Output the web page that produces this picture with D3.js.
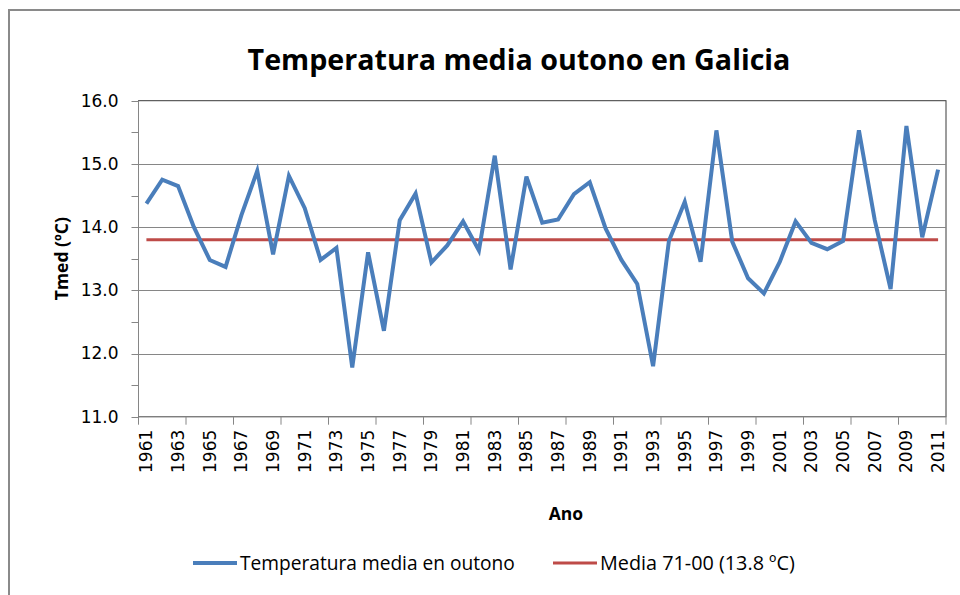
<!doctype html>
<html>
<head>
<meta charset="utf-8">
<title>Temperatura media outono en Galicia</title>
<script src="https://d3js.org/d3.v7.min.js"></script>
<style>
  body { margin: 0; background: #fff; }
  svg { display: block; }
  .tick-label { font-family: 'DejaVu Sans', sans-serif; font-size: 17px; fill: #000; }
  .axis-title { font-family: 'Open Sans', sans-serif; font-weight: bold; font-size: 17.5px; fill: #000; }
  .legend { font-family: 'Open Sans', sans-serif; font-size: 17px; fill: #000; }
</style>
</head>
<body>
<svg id="chart" width="960" height="595"></svg>
<script>
// years shown on the category axis
const years = d3.range(1961, 2012);
// autumn mean temperature (ºC)
const tmed = [
  14.37, 14.75, 14.65, 14.00, 13.48, 13.37, 14.19, 14.89, 13.57, 14.81,
  14.30, 13.48, 13.67, 11.78, 13.60, 12.36, 14.11, 14.53, 13.44, 13.71,
  14.09, 13.63, 15.13, 13.33, 14.80, 14.07, 14.12, 14.52, 14.71, 13.98,
  13.48, 13.10, 11.80, 13.78, 14.40, 13.45, 15.53, 13.77, 13.19, 12.95,
  13.45, 14.09, 13.75, 13.65, 13.78, 15.53, 14.11, 13.02, 15.60, 13.84,
  14.91
];
// 1971-2000 reference mean
const mean7100 = 13.8;
const yTicks = [11, 12, 13, 14, 15, 16];
const yMinor = [11.5, 12.5, 13.5, 14.5, 15.5];
const seriesNames = ["Temperatura media en outono", "Media 71-00 (13.8 ºC)"];

const blue = "#4a7ebb", red = "#be4b48", grey = "#868686";
const svg = d3.select("#chart");

// outer chart frame
svg.append("rect").attr("x", 9).attr("y", 10).attr("width", 980).attr("height", 620)
  .attr("fill", "none").attr("stroke", "#8a8a8a").attr("stroke-width", 2);

const pLeft = 138.5, pRight = 946, pTop = 100.7, pBottom = 416.7;

const x = d3.scaleBand().domain(years).range([pLeft, pRight]).padding(0);
const cx = d => x(d) + x.bandwidth() / 2;
const y = d3.scaleLinear().domain([11, 16]).range([pBottom, pTop]);

// plot area border
svg.append("rect").attr("x", pLeft).attr("y", pTop).attr("width", pRight - pLeft).attr("height", pBottom - pTop)
  .attr("fill", "none").attr("stroke", "#3a3a3a").attr("stroke-width", 1);

// gridlines
svg.append("g").selectAll("line").data(yTicks.slice(1, -1)).join("line")
  .attr("x1", pLeft).attr("x2", pRight)
  .attr("y1", d => Math.round(y(d)) + 0.5).attr("y2", d => Math.round(y(d)) + 0.5)
  .attr("stroke", grey).attr("stroke-width", 1);

// y axis
const yAxis = svg.append("g");
yAxis.append("line").attr("x1", pLeft).attr("x2", pLeft).attr("y1", pTop).attr("y2", pBottom)
  .attr("stroke", grey);
yAxis.selectAll("line.major").data(yTicks.concat(yMinor)).join("line").attr("class", "major")
  .attr("x1", pLeft - 7).attr("x2", pLeft)
  .attr("y1", d => Math.round(y(d)) + 0.5).attr("y2", d => Math.round(y(d)) + 0.5)
  .attr("stroke", grey);
yAxis.selectAll("text").data(yTicks).join("text").attr("class", "tick-label")
  .attr("x", pLeft - 20).attr("y", d => y(d)).attr("dy", "0.35em")
  .attr("text-anchor", "end").text(d => d.toFixed(1));

// x axis
const xAxis = svg.append("g");
xAxis.append("line").attr("x1", pLeft).attr("x2", pRight).attr("y1", pBottom).attr("y2", pBottom)
  .attr("stroke", grey);
const tickYears = years.filter((d, i) => i % 3 === 0);
xAxis.selectAll("line.tk").data(tickYears.map(d => x(d)).concat([pRight])).join("line").attr("class", "tk")
  .attr("x1", d => d).attr("x2", d => d).attr("y1", pBottom).attr("y2", pBottom + 8)
  .attr("stroke", grey);
xAxis.selectAll("text").data(years.filter((d, i) => i % 2 === 0)).join("text").attr("class", "tick-label")
  .attr("transform", d => `translate(${cx(d)},${pBottom + 13}) rotate(-90)`)
  .attr("dy", "0.35em").attr("text-anchor", "end").text(d => d);

// axis titles
svg.append("text").attr("class", "axis-title")
  .attr("transform", `translate(62,${(pTop + pBottom) / 2}) rotate(-90)`)
  .attr("dy", "0.35em").attr("text-anchor", "middle").text("Tmed (ºC)");
svg.append("text").attr("class", "axis-title")
  .attr("x", 566).attr("y", 514).attr("dy", "0.35em").attr("text-anchor", "middle").text("Ano");

// title
const title = svg.append("text").attr("x", 519).attr("y", 70).attr("text-anchor", "middle")
  .attr("font-family", "'Open Sans', sans-serif").attr("font-weight", "bold").attr("font-size", 32)
  .text("Temperatura media outono en Galicia");
const tw = title.node().getComputedTextLength();
title.attr("font-size", 32 * 543 / tw);

// reference mean line
svg.append("line").attr("x1", cx(years[0])).attr("x2", cx(years[years.length - 1]))
  .attr("y1", y(mean7100)).attr("y2", y(mean7100))
  .attr("stroke", red).attr("stroke-width", 3);

// temperature series
const line = d3.line().x((d, i) => cx(years[i])).y(d => y(d));
svg.append("path").datum(tmed).attr("d", line)
  .attr("fill", "none").attr("stroke", blue).attr("stroke-width", 4)
  .attr("stroke-linejoin", "miter").attr("stroke-miterlimit", 4);

// legend
const legendItems = [
  { name: seriesNames[0], color: blue, w: 4, x0: 193, tx: 240, width: 275 },
  { name: seriesNames[1], color: red, w: 3, x0: 553, tx: 600, width: 195 }
];
legendItems.forEach(it => {
  svg.append("line").attr("x1", it.x0).attr("x2", it.x0 + 44).attr("y1", 563).attr("y2", 563)
    .attr("stroke", it.color).attr("stroke-width", it.w);
  const t = svg.append("text").attr("class", "legend").attr("x", it.tx).attr("y", 563)
    .attr("dy", "0.35em").text(it.name);
  const l = t.node().getComputedTextLength();
  t.style("font-size", (17 * it.width / l) + "px");
});
</script>
</body>
</html>
